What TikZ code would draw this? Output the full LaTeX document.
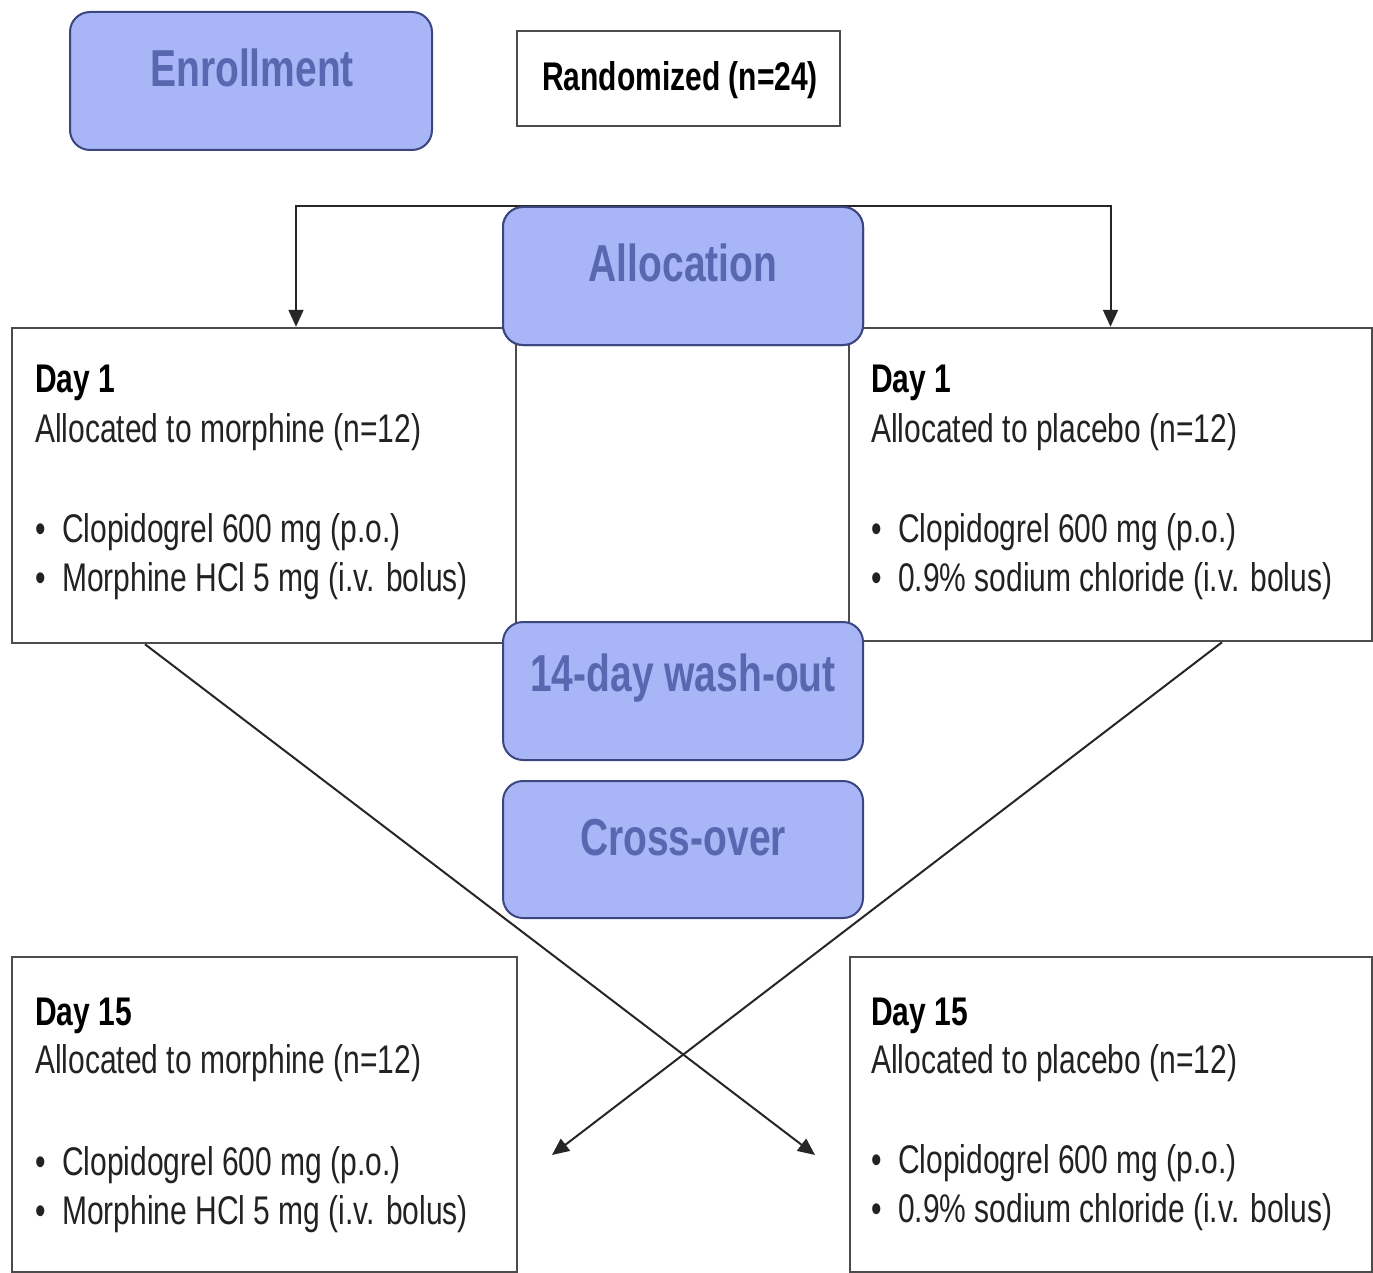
\documentclass[tikz,border=0pt]{standalone}
\usepackage{fontspec}
\setmainfont{Liberation Sans}[FakeStretch=0.75]
\usetikzlibrary{arrows.meta}
\definecolor{boxfill}{RGB}{168,181,246}
\definecolor{boxline}{RGB}{60,70,128}
\definecolor{titlecol}{RGB}{88,104,176}
\definecolor{bodytext}{RGB}{34,34,34}
\tikzset{
  plainbox/.style={draw=black!70, line width=2.5pt, fill=white, inner sep=0pt},
  bluebox/.style={draw=boxline, line width=2pt, fill=boxfill, rounded corners=20pt, inner sep=0pt},
  titletext/.style={text=titlecol, font=\fontsize{52}{60}\selectfont\bfseries, inner sep=0pt},
  daytext/.style={anchor=base west, inner sep=0pt, font=\fontsize{40}{48}\selectfont\bfseries, text=black},
  bodytxt/.style={anchor=base west, inner sep=0pt, font=\fontsize{40}{48}\selectfont, text=bodytext},
  conn/.style={draw=black!85, line width=2pt},
  arr/.style={conn, -{Triangle[length=17pt,width=15pt]}},
}
\newcommand{\bul}{\makebox[27pt][l]{\textbullet}}
\begin{document}
\begin{tikzpicture}[x=1pt,y=-1pt]
\useasboundingbox (0,0) rectangle (1373,1273);
% plain boxes
\node[plainbox, minimum width=323pt, minimum height=95pt] (rand) at (678.5,78.5) {};
\node[inner sep=0pt, font=\fontsize{40}{46}\selectfont\bfseries] (randt) at (680,80) {Randomized (n=24)};
\node[plainbox, minimum width=504pt, minimum height=315pt] (d1l) at (264,485.5) {};
\node[plainbox, minimum width=523pt, minimum height=313pt] (d1r) at (1110.5,484.5) {};
\node[plainbox, minimum width=505pt, minimum height=315pt] (d15l) at (264.5,1114.5) {};
\node[plainbox, minimum width=522pt, minimum height=315pt] (d15r) at (1111,1114.5) {};
% texts in boxes
\node[daytext] (d1lh) at (35,392) {Day 1};
\node[bodytxt] (d1la) at (35,442) {Allocated to morphine (n=12)};
\node[bodytxt] (d1lb) at (35,542) {\bul Clopidogrel 600 mg (p.o.)};
\node[bodytxt] (d1lc) at (35,591) {\bul Morphine HCl 5 mg (i.v. bolus)};
\node[daytext] (d1rh) at (871,392) {Day 1};
\node[bodytxt] (d1ra) at (871,442) {Allocated to placebo (n=12)};
\node[bodytxt] (d1rb) at (871,542) {\bul Clopidogrel 600 mg (p.o.)};
\node[bodytxt] (d1rc) at (871,591) {\bul 0.9\% sodium chloride (i.v. bolus)};
\node[daytext] (d15lh) at (35,1025) {Day 15};
\node[bodytxt] (d15la) at (35,1073) {Allocated to morphine (n=12)};
\node[bodytxt] (d15lb) at (35,1175) {\bul Clopidogrel 600 mg (p.o.)};
\node[bodytxt] (d15lc) at (35,1224) {\bul Morphine HCl 5 mg (i.v. bolus)};
\node[daytext] (d15rh) at (871,1025) {Day 15};
\node[bodytxt] (d15ra) at (871,1073) {Allocated to placebo (n=12)};
\node[bodytxt] (d15rb) at (871,1173) {\bul Clopidogrel 600 mg (p.o.)};
\node[bodytxt] (d15rc) at (871,1222) {\bul 0.9\% sodium chloride (i.v. bolus)};
% blue boxes (shapes)
\node[bluebox, minimum width=362pt, minimum height=138pt] (enr) at (251,81) {};
\node[bluebox, minimum width=360pt, minimum height=138pt] (alloc) at (683,276) {};
% connectors
\coordinate (lx) at (296,0);
\coordinate (cl) at (145,0);
\coordinate (cr) at (1222,0);
\coordinate (tipA) at (815,1155);
\coordinate (tipB) at (552,1155);
\draw[arr] (alloc.north) -| (d1l.north -| lx);
\draw[arr] (alloc.north) -| (d1r.north);
\draw[arr] (d1l.south -| cl) -- (tipA);
\draw[arr] (d1r.south -| cr) -- (tipB);
% redraw allocation box above the line
\node[bluebox, minimum width=360pt, minimum height=138pt] (alloc2) at (683,276) {};
\node[bluebox, minimum width=360pt, minimum height=138pt] (wash) at (683,691) {};
\node[bluebox, minimum width=360pt, minimum height=137pt] (cross) at (683,849.5) {};
% titles
\node[titletext] (enrt) at (252,68) {Enrollment};
\node[titletext] (alloct) at (683,263) {Allocation};
\node[titletext] (washt) at (683,678) {14-day wash-out};
\node[titletext] (crosst) at (683,838) {Cross-over};
\end{tikzpicture}
\end{document}
